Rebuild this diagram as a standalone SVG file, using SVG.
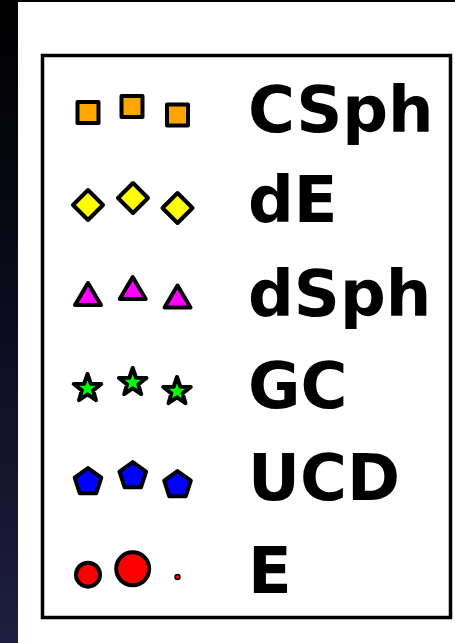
<svg xmlns="http://www.w3.org/2000/svg" width="455" height="643" viewBox="0 0 455 643">
<defs>
<linearGradient id="bg" x1="0" y1="0" x2="0" y2="1">
<stop offset="0" stop-color="#000000"/>
<stop offset="0.5" stop-color="#0c0c1e"/>
<stop offset="1" stop-color="#1e1e40"/>
</linearGradient>
<rect id="sq" x="-10.5" y="-10.5" width="21" height="21"/>
<polygon id="dm" points="0,-15 15,0 0,15 -15,0"/>
<polygon id="tr" points="0,-12 13,10 -13,10"/>
<polygon id="st" points="0,-14.5 3.4,-4.7 13.8,-4.5 5.6,1.8 8.5,11.7 0,5.9 -8.5,11.7 -5.6,1.8 -13.8,-4.5 -3.4,-4.7"/>
<polygon id="pg" points="0,-14 13.3,-4.3 8.2,11.3 -8.2,11.3 -13.3,-4.3"/>
</defs>
<style>
.m{stroke:#000;stroke-width:4;stroke-linejoin:round}
.lbl{font-family:"DejaVu Sans",sans-serif;font-weight:bold;font-size:64px;fill:#000}
</style>
<rect x="0" y="0" width="455" height="643" fill="#ffffff"/>
<rect x="0" y="0" width="18" height="643" fill="url(#bg)"/>
<rect x="0" y="0" width="455" height="2" fill="#000"/>
<rect x="42.5" y="55.5" width="408" height="562" fill="#fff" stroke="#000" stroke-width="3.5"/>
<g id="csph">
<use href="#sq" class="m" fill="#ffa500" x="88" y="112.5"/>
<use href="#sq" class="m" fill="#ffa500" x="132" y="106.5"/>
<use href="#sq" class="m" fill="#ffa500" x="177.5" y="115"/>
<text class="lbl" x="248" y="132">CSph</text>
</g>
<g id="de">
<use href="#dm" class="m" fill="#ffff00" x="88" y="205"/>
<use href="#dm" class="m" fill="#ffff00" x="133" y="198"/>
<use href="#dm" class="m" fill="#ffff00" x="177.5" y="208"/>
<text class="lbl" x="248" y="222">dE</text>
</g>
<g id="dsph">
<use href="#tr" class="m" fill="#ff00ff" x="88" y="295"/>
<use href="#tr" class="m" fill="#ff00ff" x="132.7" y="289"/>
<use href="#tr" class="m" fill="#ff00ff" x="177.5" y="297.5"/>
<text class="lbl" x="248" y="316">dSph</text>
</g>
<g id="gc">
<use href="#st" class="m" fill="#00ff00" x="87.5" y="388.5"/>
<use href="#st" class="m" fill="#00ff00" x="132.7" y="382.5"/>
<use href="#st" class="m" fill="#00ff00" x="177" y="391.5"/>
<text class="lbl" x="248" y="408">GC</text>
</g>
<g id="ucd">
<use href="#pg" class="m" fill="#0000ff" x="88" y="482"/>
<use href="#pg" class="m" fill="#0000ff" x="132.8" y="476"/>
<use href="#pg" class="m" fill="#0000ff" x="177.5" y="485"/>
<text class="lbl" x="248" y="500">UCD</text>
</g>
<g id="e">
<circle class="m" fill="#ff0000" cx="88" cy="574.7" r="12"/>
<circle class="m" fill="#ff0000" cx="132.7" cy="568.8" r="16.5"/>
<circle fill="#ff0000" stroke="#000" stroke-width="1.5" cx="177.5" cy="577" r="2.5"/>
<text class="lbl" x="248" y="593">E</text>
</g>
</svg>
